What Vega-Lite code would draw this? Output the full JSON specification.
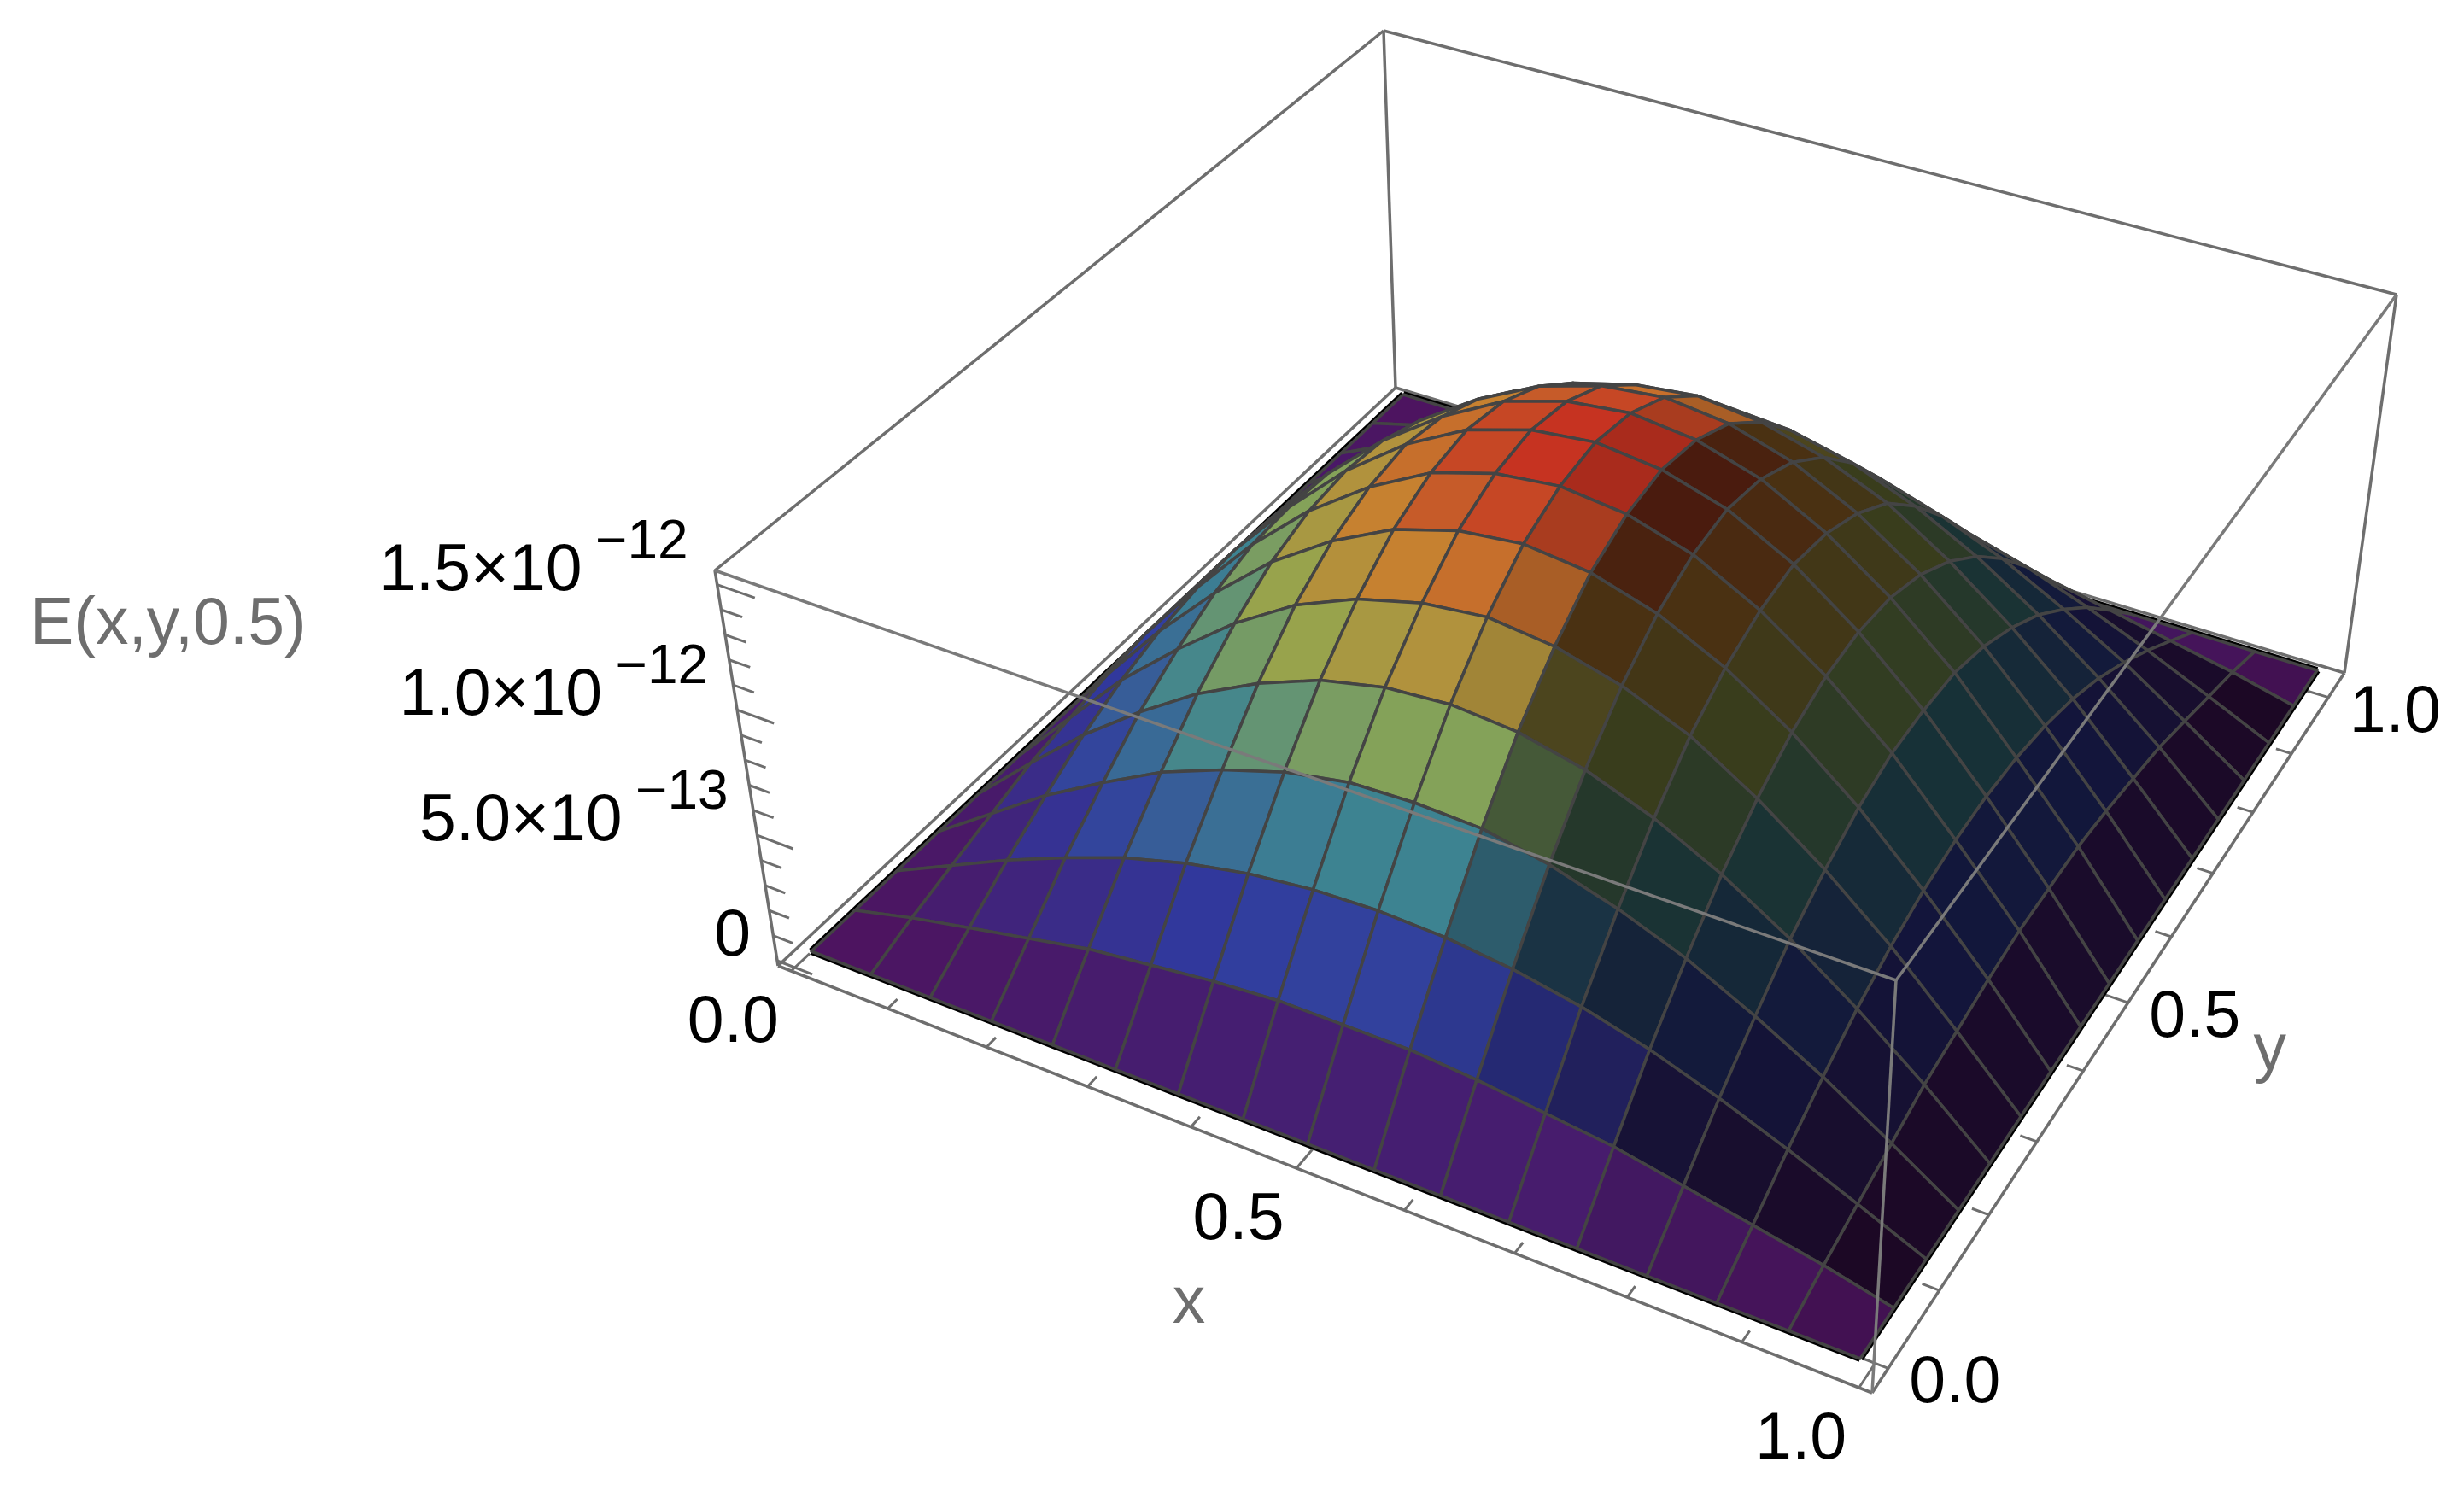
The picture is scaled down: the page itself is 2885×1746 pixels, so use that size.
{"$schema":"https://vega.github.io/schema/vega-lite/v6.json","autosize":{"type":"fit","contains":"padding"},"padding":0,"width":2885,"height":1746,"background":"white","view":{"stroke":null},
"config":{"text":{"font":"Liberation Sans"}},
"datasets":{
"frame":[{"edge":"AB","part":"back","X":0,"Y":0,"Z":0},{"edge":"AB","part":"back","X":1,"Y":0,"Z":0},{"edge":"BC","part":"back","X":1,"Y":0,"Z":0},{"edge":"BC","part":"back","X":1,"Y":1,"Z":0},{"edge":"CD","part":"back","X":1,"Y":1,"Z":0},{"edge":"CD","part":"back","X":0,"Y":1,"Z":0},{"edge":"DA","part":"back","X":0,"Y":1,"Z":0},{"edge":"DA","part":"back","X":0,"Y":0,"Z":0},{"edge":"AA","part":"back","X":0,"Y":0,"Z":0},{"edge":"AA","part":"back","X":0,"Y":0,"Z":1},{"edge":"CC","part":"back","X":1,"Y":1,"Z":0},{"edge":"CC","part":"back","X":1,"Y":1,"Z":1},{"edge":"DD","part":"back","X":0,"Y":1,"Z":0},{"edge":"DD","part":"back","X":0,"Y":1,"Z":1},{"edge":"AtDt","part":"back","X":0,"Y":0,"Z":1},{"edge":"AtDt","part":"back","X":0,"Y":1,"Z":1},{"edge":"DtCt","part":"back","X":0,"Y":1,"Z":1},{"edge":"DtCt","part":"back","X":1,"Y":1,"Z":1},{"edge":"AtBt","part":"front","X":0,"Y":0,"Z":1},{"edge":"AtBt","part":"front","X":1,"Y":0,"Z":1},{"edge":"BtCt","part":"front","X":1,"Y":0,"Z":1},{"edge":"BtCt","part":"front","X":1,"Y":1,"Z":1},{"edge":"BB","part":"front","X":1,"Y":0,"Z":0},{"edge":"BB","part":"front","X":1,"Y":0,"Z":1}],
"ticks":[{"axis":"x","v":0},{"axis":"x","v":0.1},{"axis":"x","v":0.2},{"axis":"x","v":0.3},{"axis":"x","v":0.4},{"axis":"x","v":0.5},{"axis":"x","v":0.6},{"axis":"x","v":0.7},{"axis":"x","v":0.8},{"axis":"x","v":0.9},{"axis":"x","v":1},{"axis":"y","v":0},{"axis":"y","v":0.1},{"axis":"y","v":0.2},{"axis":"y","v":0.3},{"axis":"y","v":0.4},{"axis":"y","v":0.5},{"axis":"y","v":0.6},{"axis":"y","v":0.7},{"axis":"y","v":0.8},{"axis":"y","v":0.9},{"axis":"y","v":1},{"axis":"z","v":0},{"axis":"z","v":0.1},{"axis":"z","v":0.2},{"axis":"z","v":0.3},{"axis":"z","v":0.4},{"axis":"z","v":0.5},{"axis":"z","v":0.6},{"axis":"z","v":0.7},{"axis":"z","v":0.8},{"axis":"z","v":0.9},{"axis":"z","v":1},{"axis":"z","v":1.1},{"axis":"z","v":1.2},{"axis":"z","v":1.3},{"axis":"z","v":1.4},{"axis":"z","v":1.5}],
"labels":[{"text":"0.0","axis":"x","v":0},{"text":"0.5","axis":"x","v":0.5},{"text":"1.0","axis":"x","v":1},{"text":"0.0","axis":"y","v":0},{"text":"0.5","axis":"y","v":0.5},{"text":"1.0","axis":"y","v":1},{"text":"x","axis":"xt","v":0.5},{"text":"y","axis":"yt","v":0.5},{"text":"E(x,y,0.5)","axis":"zt","v":0.75}],
"zlabels":[{"text":"0","exp":"","v":0},{"text":"5.0×10","exp":"−13","v":0.5},{"text":"1.0×10","exp":"−12","v":1},{"text":"1.5×10","exp":"−12","v":1.5}],
"surface":[
{"x":0,"y":1,"E":0},{"x":0.063,"y":1,"E":0},{"x":0.125,"y":1,"E":0},{"x":0.188,"y":1,"E":0},{"x":0.25,"y":1,"E":0},{"x":0.313,"y":1,"E":0},{"x":0.375,"y":1,"E":0},{"x":0.438,"y":1,"E":0},{"x":0.5,"y":1,"E":0},{"x":0.563,"y":1,"E":0},{"x":0.625,"y":1,"E":0},{"x":0.688,"y":1,"E":0},{"x":0.75,"y":1,"E":0},{"x":0.813,"y":1,"E":0},{"x":0.875,"y":1,"E":0},{"x":0.938,"y":1,"E":0},{"x":1,"y":1,"E":0},
{"x":0,"y":0.938,"E":0},{"x":0.063,"y":0.938,"E":0.06},{"x":0.125,"y":0.938,"E":0.11},{"x":0.188,"y":0.938,"E":0.16},{"x":0.25,"y":0.938,"E":0.21},{"x":0.313,"y":0.938,"E":0.24},{"x":0.375,"y":0.938,"E":0.27},{"x":0.438,"y":0.938,"E":0.29},{"x":0.5,"y":0.938,"E":0.29},{"x":0.563,"y":0.938,"E":0.29},{"x":0.625,"y":0.938,"E":0.27},{"x":0.688,"y":0.938,"E":0.24},{"x":0.75,"y":0.938,"E":0.21},{"x":0.813,"y":0.938,"E":0.16},{"x":0.875,"y":0.938,"E":0.11},{"x":0.938,"y":0.938,"E":0.06},{"x":1,"y":0.938,"E":0},
{"x":0,"y":0.875,"E":0},{"x":0.063,"y":0.875,"E":0.11},{"x":0.125,"y":0.875,"E":0.22},{"x":0.188,"y":0.875,"E":0.32},{"x":0.25,"y":0.875,"E":0.41},{"x":0.313,"y":0.875,"E":0.48},{"x":0.375,"y":0.875,"E":0.53},{"x":0.438,"y":0.875,"E":0.56},{"x":0.5,"y":0.875,"E":0.57},{"x":0.563,"y":0.875,"E":0.56},{"x":0.625,"y":0.875,"E":0.53},{"x":0.688,"y":0.875,"E":0.48},{"x":0.75,"y":0.875,"E":0.41},{"x":0.813,"y":0.875,"E":0.32},{"x":0.875,"y":0.875,"E":0.22},{"x":0.938,"y":0.875,"E":0.11},{"x":1,"y":0.875,"E":0},
{"x":0,"y":0.813,"E":0},{"x":0.063,"y":0.813,"E":0.16},{"x":0.125,"y":0.813,"E":0.32},{"x":0.188,"y":0.813,"E":0.46},{"x":0.25,"y":0.813,"E":0.59},{"x":0.313,"y":0.813,"E":0.69},{"x":0.375,"y":0.813,"E":0.77},{"x":0.438,"y":0.813,"E":0.82},{"x":0.5,"y":0.813,"E":0.83},{"x":0.563,"y":0.813,"E":0.82},{"x":0.625,"y":0.813,"E":0.77},{"x":0.688,"y":0.813,"E":0.69},{"x":0.75,"y":0.813,"E":0.59},{"x":0.813,"y":0.813,"E":0.46},{"x":0.875,"y":0.813,"E":0.32},{"x":0.938,"y":0.813,"E":0.16},{"x":1,"y":0.813,"E":0},
{"x":0,"y":0.75,"E":0},{"x":0.063,"y":0.75,"E":0.21},{"x":0.125,"y":0.75,"E":0.41},{"x":0.188,"y":0.75,"E":0.59},{"x":0.25,"y":0.75,"E":0.75},{"x":0.313,"y":0.75,"E":0.88},{"x":0.375,"y":0.75,"E":0.98},{"x":0.438,"y":0.75,"E":1.04},{"x":0.5,"y":0.75,"E":1.06},{"x":0.563,"y":0.75,"E":1.04},{"x":0.625,"y":0.75,"E":0.98},{"x":0.688,"y":0.75,"E":0.88},{"x":0.75,"y":0.75,"E":0.75},{"x":0.813,"y":0.75,"E":0.59},{"x":0.875,"y":0.75,"E":0.41},{"x":0.938,"y":0.75,"E":0.21},{"x":1,"y":0.75,"E":0},
{"x":0,"y":0.688,"E":0},{"x":0.063,"y":0.688,"E":0.24},{"x":0.125,"y":0.688,"E":0.48},{"x":0.188,"y":0.688,"E":0.69},{"x":0.25,"y":0.688,"E":0.88},{"x":0.313,"y":0.688,"E":1.04},{"x":0.375,"y":0.688,"E":1.15},{"x":0.438,"y":0.688,"E":1.22},{"x":0.5,"y":0.688,"E":1.25},{"x":0.563,"y":0.688,"E":1.22},{"x":0.625,"y":0.688,"E":1.15},{"x":0.688,"y":0.688,"E":1.04},{"x":0.75,"y":0.688,"E":0.88},{"x":0.813,"y":0.688,"E":0.69},{"x":0.875,"y":0.688,"E":0.48},{"x":0.938,"y":0.688,"E":0.24},{"x":1,"y":0.688,"E":0},
{"x":0,"y":0.625,"E":0},{"x":0.063,"y":0.625,"E":0.27},{"x":0.125,"y":0.625,"E":0.53},{"x":0.188,"y":0.625,"E":0.77},{"x":0.25,"y":0.625,"E":0.98},{"x":0.313,"y":0.625,"E":1.15},{"x":0.375,"y":0.625,"E":1.28},{"x":0.438,"y":0.625,"E":1.36},{"x":0.5,"y":0.625,"E":1.39},{"x":0.563,"y":0.625,"E":1.36},{"x":0.625,"y":0.625,"E":1.28},{"x":0.688,"y":0.625,"E":1.15},{"x":0.75,"y":0.625,"E":0.98},{"x":0.813,"y":0.625,"E":0.77},{"x":0.875,"y":0.625,"E":0.53},{"x":0.938,"y":0.625,"E":0.27},{"x":1,"y":0.625,"E":0},
{"x":0,"y":0.563,"E":0},{"x":0.063,"y":0.563,"E":0.29},{"x":0.125,"y":0.563,"E":0.56},{"x":0.188,"y":0.563,"E":0.82},{"x":0.25,"y":0.563,"E":1.04},{"x":0.313,"y":0.563,"E":1.22},{"x":0.375,"y":0.563,"E":1.36},{"x":0.438,"y":0.563,"E":1.44},{"x":0.5,"y":0.563,"E":1.47},{"x":0.563,"y":0.563,"E":1.44},{"x":0.625,"y":0.563,"E":1.36},{"x":0.688,"y":0.563,"E":1.22},{"x":0.75,"y":0.563,"E":1.04},{"x":0.813,"y":0.563,"E":0.82},{"x":0.875,"y":0.563,"E":0.56},{"x":0.938,"y":0.563,"E":0.29},{"x":1,"y":0.563,"E":0},
{"x":0,"y":0.5,"E":0},{"x":0.063,"y":0.5,"E":0.29},{"x":0.125,"y":0.5,"E":0.57},{"x":0.188,"y":0.5,"E":0.83},{"x":0.25,"y":0.5,"E":1.06},{"x":0.313,"y":0.5,"E":1.25},{"x":0.375,"y":0.5,"E":1.39},{"x":0.438,"y":0.5,"E":1.47},{"x":0.5,"y":0.5,"E":1.5},{"x":0.563,"y":0.5,"E":1.47},{"x":0.625,"y":0.5,"E":1.39},{"x":0.688,"y":0.5,"E":1.25},{"x":0.75,"y":0.5,"E":1.06},{"x":0.813,"y":0.5,"E":0.83},{"x":0.875,"y":0.5,"E":0.57},{"x":0.938,"y":0.5,"E":0.29},{"x":1,"y":0.5,"E":0},
{"x":0,"y":0.438,"E":0},{"x":0.063,"y":0.438,"E":0.29},{"x":0.125,"y":0.438,"E":0.56},{"x":0.188,"y":0.438,"E":0.82},{"x":0.25,"y":0.438,"E":1.04},{"x":0.313,"y":0.438,"E":1.22},{"x":0.375,"y":0.438,"E":1.36},{"x":0.438,"y":0.438,"E":1.44},{"x":0.5,"y":0.438,"E":1.47},{"x":0.563,"y":0.438,"E":1.44},{"x":0.625,"y":0.438,"E":1.36},{"x":0.688,"y":0.438,"E":1.22},{"x":0.75,"y":0.438,"E":1.04},{"x":0.813,"y":0.438,"E":0.82},{"x":0.875,"y":0.438,"E":0.56},{"x":0.938,"y":0.438,"E":0.29},{"x":1,"y":0.438,"E":0},
{"x":0,"y":0.375,"E":0},{"x":0.063,"y":0.375,"E":0.27},{"x":0.125,"y":0.375,"E":0.53},{"x":0.188,"y":0.375,"E":0.77},{"x":0.25,"y":0.375,"E":0.98},{"x":0.313,"y":0.375,"E":1.15},{"x":0.375,"y":0.375,"E":1.28},{"x":0.438,"y":0.375,"E":1.36},{"x":0.5,"y":0.375,"E":1.39},{"x":0.563,"y":0.375,"E":1.36},{"x":0.625,"y":0.375,"E":1.28},{"x":0.688,"y":0.375,"E":1.15},{"x":0.75,"y":0.375,"E":0.98},{"x":0.813,"y":0.375,"E":0.77},{"x":0.875,"y":0.375,"E":0.53},{"x":0.938,"y":0.375,"E":0.27},{"x":1,"y":0.375,"E":0},
{"x":0,"y":0.313,"E":0},{"x":0.063,"y":0.313,"E":0.24},{"x":0.125,"y":0.313,"E":0.48},{"x":0.188,"y":0.313,"E":0.69},{"x":0.25,"y":0.313,"E":0.88},{"x":0.313,"y":0.313,"E":1.04},{"x":0.375,"y":0.313,"E":1.15},{"x":0.438,"y":0.313,"E":1.22},{"x":0.5,"y":0.313,"E":1.25},{"x":0.563,"y":0.313,"E":1.22},{"x":0.625,"y":0.313,"E":1.15},{"x":0.688,"y":0.313,"E":1.04},{"x":0.75,"y":0.313,"E":0.88},{"x":0.813,"y":0.313,"E":0.69},{"x":0.875,"y":0.313,"E":0.48},{"x":0.938,"y":0.313,"E":0.24},{"x":1,"y":0.313,"E":0},
{"x":0,"y":0.25,"E":0},{"x":0.063,"y":0.25,"E":0.21},{"x":0.125,"y":0.25,"E":0.41},{"x":0.188,"y":0.25,"E":0.59},{"x":0.25,"y":0.25,"E":0.75},{"x":0.313,"y":0.25,"E":0.88},{"x":0.375,"y":0.25,"E":0.98},{"x":0.438,"y":0.25,"E":1.04},{"x":0.5,"y":0.25,"E":1.06},{"x":0.563,"y":0.25,"E":1.04},{"x":0.625,"y":0.25,"E":0.98},{"x":0.688,"y":0.25,"E":0.88},{"x":0.75,"y":0.25,"E":0.75},{"x":0.813,"y":0.25,"E":0.59},{"x":0.875,"y":0.25,"E":0.41},{"x":0.938,"y":0.25,"E":0.21},{"x":1,"y":0.25,"E":0},
{"x":0,"y":0.188,"E":0},{"x":0.063,"y":0.188,"E":0.16},{"x":0.125,"y":0.188,"E":0.32},{"x":0.188,"y":0.188,"E":0.46},{"x":0.25,"y":0.188,"E":0.59},{"x":0.313,"y":0.188,"E":0.69},{"x":0.375,"y":0.188,"E":0.77},{"x":0.438,"y":0.188,"E":0.82},{"x":0.5,"y":0.188,"E":0.83},{"x":0.563,"y":0.188,"E":0.82},{"x":0.625,"y":0.188,"E":0.77},{"x":0.688,"y":0.188,"E":0.69},{"x":0.75,"y":0.188,"E":0.59},{"x":0.813,"y":0.188,"E":0.46},{"x":0.875,"y":0.188,"E":0.32},{"x":0.938,"y":0.188,"E":0.16},{"x":1,"y":0.188,"E":0},
{"x":0,"y":0.125,"E":0},{"x":0.063,"y":0.125,"E":0.11},{"x":0.125,"y":0.125,"E":0.22},{"x":0.188,"y":0.125,"E":0.32},{"x":0.25,"y":0.125,"E":0.41},{"x":0.313,"y":0.125,"E":0.48},{"x":0.375,"y":0.125,"E":0.53},{"x":0.438,"y":0.125,"E":0.56},{"x":0.5,"y":0.125,"E":0.57},{"x":0.563,"y":0.125,"E":0.56},{"x":0.625,"y":0.125,"E":0.53},{"x":0.688,"y":0.125,"E":0.48},{"x":0.75,"y":0.125,"E":0.41},{"x":0.813,"y":0.125,"E":0.32},{"x":0.875,"y":0.125,"E":0.22},{"x":0.938,"y":0.125,"E":0.11},{"x":1,"y":0.125,"E":0},
{"x":0,"y":0.063,"E":0},{"x":0.063,"y":0.063,"E":0.06},{"x":0.125,"y":0.063,"E":0.11},{"x":0.188,"y":0.063,"E":0.16},{"x":0.25,"y":0.063,"E":0.21},{"x":0.313,"y":0.063,"E":0.24},{"x":0.375,"y":0.063,"E":0.27},{"x":0.438,"y":0.063,"E":0.29},{"x":0.5,"y":0.063,"E":0.29},{"x":0.563,"y":0.063,"E":0.29},{"x":0.625,"y":0.063,"E":0.27},{"x":0.688,"y":0.063,"E":0.24},{"x":0.75,"y":0.063,"E":0.21},{"x":0.813,"y":0.063,"E":0.16},{"x":0.875,"y":0.063,"E":0.11},{"x":0.938,"y":0.063,"E":0.06},{"x":1,"y":0.063,"E":0},
{"x":0,"y":0,"E":0},{"x":0.063,"y":0,"E":0},{"x":0.125,"y":0,"E":0},{"x":0.188,"y":0,"E":0},{"x":0.25,"y":0,"E":0},{"x":0.313,"y":0,"E":0},{"x":0.375,"y":0,"E":0},{"x":0.438,"y":0,"E":0},{"x":0.5,"y":0,"E":0},{"x":0.563,"y":0,"E":0},{"x":0.625,"y":0,"E":0},{"x":0.688,"y":0,"E":0},{"x":0.75,"y":0,"E":0},{"x":0.813,"y":0,"E":0},{"x":0.875,"y":0,"E":0},{"x":0.938,"y":0,"E":0},{"x":1,"y":0,"E":0}
]},
"layer":[
{"data":{"name":"frame"},"transform":[{"filter":"datum.part=='back'"},
{"calculate":"(1-datum.Z)*((1-datum.X)*(1-datum.Y)*911+datum.X*(1-datum.Y)*2192+datum.X*datum.Y*2745+(1-datum.X)*datum.Y*1634)+datum.Z*((1-datum.X)*(1-datum.Y)*837+datum.X*(1-datum.Y)*2220+datum.X*datum.Y*2806+(1-datum.X)*datum.Y*1620)","as":"sx"},
{"calculate":"(1-datum.Z)*((1-datum.X)*(1-datum.Y)*1131+datum.X*(1-datum.Y)*1631+datum.X*datum.Y*788+(1-datum.X)*datum.Y*454)+datum.Z*((1-datum.X)*(1-datum.Y)*668+datum.X*(1-datum.Y)*1148+datum.X*datum.Y*345+(1-datum.X)*datum.Y*36)","as":"sy"}],
"mark":{"type":"line","stroke":"#6e6e6e","strokeWidth":3.5},
"encoding":{"x":{"field":"sx","type":"quantitative","axis":null,"scale":{"domain":[0,2885],"nice":false,"zero":false}},"y":{"field":"sy","type":"quantitative","axis":null,"scale":{"domain":[1746,0],"nice":false,"zero":false}},"detail":{"field":"edge"}}},
{"data":{"name":"ticks"},"transform":[
{"calculate":"[0,1]","as":"p"},{"flatten":["p"]},
{"calculate":"(datum.axis=='z'?(abs(datum.v-round(datum.v*2)/2)<0.01?0.032:0.018):(abs(datum.v*2-round(datum.v*2))<0.01?0.03:0.016))*datum.p","as":"len"},
{"calculate":"(datum.v+0.12*datum.v*datum.v)/1.12","as":"xw"},
{"calculate":"datum.v*1.18-0.18*datum.v*datum.v","as":"yw"},
{"calculate":"datum.axis=='x'?0.012+0.976*datum.xw:(datum.axis=='y'?1-datum.len:datum.len)","as":"X"},
{"calculate":"datum.axis=='y'?0.034+0.932*datum.yw:(datum.axis=='x'?datum.len:0)","as":"Y"},
{"calculate":"datum.axis=='z'?0.013+0.951*datum.v/1.5:0","as":"Z"},
{"calculate":"(1-datum.Z)*((1-datum.X)*(1-datum.Y)*911+datum.X*(1-datum.Y)*2192+datum.X*datum.Y*2745+(1-datum.X)*datum.Y*1634)+datum.Z*((1-datum.X)*(1-datum.Y)*837+datum.X*(1-datum.Y)*2220+datum.X*datum.Y*2806+(1-datum.X)*datum.Y*1620)","as":"sx"},
{"calculate":"(1-datum.Z)*((1-datum.X)*(1-datum.Y)*1131+datum.X*(1-datum.Y)*1631+datum.X*datum.Y*788+(1-datum.X)*datum.Y*454)+datum.Z*((1-datum.X)*(1-datum.Y)*668+datum.X*(1-datum.Y)*1148+datum.X*datum.Y*345+(1-datum.X)*datum.Y*36)","as":"sy"},
{"calculate":"datum.axis+datum.v","as":"tick"}],
"mark":{"type":"line","stroke":"#6e6e6e","strokeWidth":3},
"encoding":{"x":{"field":"sx","type":"quantitative","axis":null},"y":{"field":"sy","type":"quantitative","axis":null},"detail":{"field":"tick"},"order":{"field":"p","type":"quantitative"}}},
{"data":{"name":"surface"},"transform":[
{"calculate":"[datum.x==0?'L':'',datum.x==1?'R':'',datum.y==0?'F':'',datum.y==1?'B':'']","as":"side"},{"flatten":["side"]},{"filter":"datum.side!=''"},
{"calculate":"datum.x+datum.y","as":"along"},
{"calculate":"(datum.x+0.12*datum.x*datum.x)/1.12","as":"xp"},
{"calculate":"datum.y*1.18-0.18*datum.y*datum.y","as":"yp"},
{"calculate":"(1-datum.xp)*(1-datum.yp)*950+datum.xp*(1-datum.yp)*2178+datum.xp*datum.yp*2713+(1-datum.xp)*datum.yp*1643","as":"sx"},
{"calculate":"(1-datum.xp)*(1-datum.yp)*1114+datum.xp*(1-datum.yp)*1591+datum.xp*datum.yp*785+(1-datum.xp)*datum.yp*462","as":"sy"}],
"mark":{"type":"line","stroke":"#000000","strokeWidth":8},
"encoding":{"x":{"field":"sx","type":"quantitative","axis":null},"y":{"field":"sy","type":"quantitative","axis":null},"detail":{"field":"side"},"order":{"field":"along","type":"quantitative"}}},
{"data":{"name":"surface"},"transform":[
{"calculate":"round(datum.x*16)","as":"i"},{"calculate":"round(datum.y*16)","as":"j"},
{"calculate":"[0,1,2,3]","as":"corner"},{"flatten":["corner"]},
{"calculate":"datum.i-((datum.corner==1||datum.corner==2)?1:0)","as":"ci"},
{"calculate":"datum.j-(datum.corner>=2?1:0)","as":"cj"},
{"filter":"datum.ci>=0&&datum.ci<16&&datum.cj>=0&&datum.cj<16"},
{"calculate":"'c'+datum.ci+'_'+datum.cj","as":"cell"},
{"calculate":"datum.E*((datum.corner==1||datum.corner==2)?1:-1)","as":"dx"},
{"joinaggregate":[{"op":"mean","field":"E","as":"Em"},{"op":"sum","field":"dx","as":"gx"}],"groupby":["cell"]},
{"calculate":"min(pow(datum.Em/1.5,1.2),0.999)*5","as":"k"},
{"calculate":"floor(datum.k)","as":"n"},
{"calculate":"datum.k-datum.n","as":"f"},
{"calculate":"clamp(1.05+5*datum.gx,0.33,0.88)","as":"m"},
{"calculate":"'rgb('+round(datum.m*([88,55,70,165,225,225][datum.n]*(1-datum.f)+[88,55,70,165,225,225][datum.n+1]*datum.f))+','+round(datum.m*([22,65,150,190,150,45][datum.n]*(1-datum.f)+[22,65,150,190,150,45][datum.n+1]*datum.f))+','+round(datum.m*([108,180,165,90,55,35][datum.n]*(1-datum.f)+[108,180,165,90,55,35][datum.n+1]*datum.f))+')'","as":"shade"},
{"calculate":"(datum.x+0.12*datum.x*datum.x)/1.12","as":"xp"},
{"calculate":"datum.y*1.18-0.18*datum.y*datum.y","as":"yp"},
{"calculate":"0.95*datum.E/1.5","as":"h"},
{"calculate":"(1-datum.xp)*(1-datum.yp)*(950-74*datum.h)+datum.xp*(1-datum.yp)*(2178+28*datum.h)+datum.xp*datum.yp*(2713+61*datum.h)+(1-datum.xp)*datum.yp*(1643-14*datum.h)","as":"sx"},
{"calculate":"(1-datum.xp)*(1-datum.yp)*(1114-463*datum.h)+datum.xp*(1-datum.yp)*(1591-483*datum.h)+datum.xp*datum.yp*(785-443*datum.h)+(1-datum.xp)*datum.yp*(462-418*datum.h)","as":"sy"}],
"mark":{"type":"line","interpolate":"linear-closed","stroke":"#444444","strokeWidth":3.5,"strokeJoin":"round"},
"encoding":{"x":{"field":"sx","type":"quantitative","axis":null},"y":{"field":"sy","type":"quantitative","axis":null},"detail":{"field":"cell"},"fill":{"field":"shade","type":"nominal","scale":null,"legend":null},"order":{"field":"corner","type":"quantitative"}}},
{"data":{"name":"frame"},"transform":[{"filter":"datum.part=='front'"},
{"calculate":"(1-datum.Z)*((1-datum.X)*(1-datum.Y)*911+datum.X*(1-datum.Y)*2192+datum.X*datum.Y*2745+(1-datum.X)*datum.Y*1634)+datum.Z*((1-datum.X)*(1-datum.Y)*837+datum.X*(1-datum.Y)*2220+datum.X*datum.Y*2806+(1-datum.X)*datum.Y*1620)","as":"sx"},
{"calculate":"(1-datum.Z)*((1-datum.X)*(1-datum.Y)*1131+datum.X*(1-datum.Y)*1631+datum.X*datum.Y*788+(1-datum.X)*datum.Y*454)+datum.Z*((1-datum.X)*(1-datum.Y)*668+datum.X*(1-datum.Y)*1148+datum.X*datum.Y*345+(1-datum.X)*datum.Y*36)","as":"sy"}],
"mark":{"type":"line","stroke":"#7a7a7a","strokeWidth":3.5},
"encoding":{"x":{"field":"sx","type":"quantitative","axis":null},"y":{"field":"sy","type":"quantitative","axis":null},"detail":{"field":"edge"}}},
{"data":{"name":"zlabels"},"transform":[
{"calculate":"0.013+0.951*datum.v/1.5","as":"Z"},
{"calculate":"911-74*datum.Z+(datum.v==0?-31:-158)","as":"ax"},{"calculate":"1131-463*datum.Z+(datum.v==0?-6:6)","as":"ay"}],
"mark":{"type":"text","align":"right","baseline":"alphabetic","font":"Liberation Sans","fontSize":77,"color":"#000000"},
"encoding":{"x":{"field":"ax","type":"quantitative","axis":null},"y":{"field":"ay","type":"quantitative","axis":null},"text":{"field":"text"}}},
{"data":{"name":"zlabels"},"transform":[{"filter":"datum.exp!=''"},
{"calculate":"0.013+0.951*datum.v/1.5","as":"Z"},
{"calculate":"911-74*datum.Z-34","as":"ax"},{"calculate":"1131-463*datum.Z-31","as":"ay"}],
"mark":{"type":"text","align":"right","baseline":"alphabetic","font":"Liberation Sans","fontSize":64,"color":"#000000"},
"encoding":{"x":{"field":"ax","type":"quantitative","axis":null},"y":{"field":"ay","type":"quantitative","axis":null},"text":{"field":"exp"}}},
{"data":{"name":"labels"},"transform":[
{"calculate":"datum.axis=='x'||datum.axis=='xt'?(datum.v+0.12*datum.v*datum.v)/1.12:(datum.axis=='y'||datum.axis=='yt'?datum.v*1.18-0.18*datum.v*datum.v:0)","as":"w"},
{"calculate":"datum.axis=='x'||datum.axis=='xt'?0.012+0.976*datum.w:(datum.axis=='y'||datum.axis=='yt'?1:0)","as":"X"},
{"calculate":"datum.axis=='y'||datum.axis=='yt'?0.034+0.932*datum.w:0","as":"Y"},
{"calculate":"datum.axis=='zt'?0.013+0.951*datum.v/1.5:0","as":"Z"},
{"calculate":"(1-datum.Z)*((1-datum.X)*(1-datum.Y)*911+datum.X*(1-datum.Y)*2192+datum.X*datum.Y*2745+(1-datum.X)*datum.Y*1634)+datum.Z*((1-datum.X)*(1-datum.Y)*837+datum.X*(1-datum.Y)*2220+datum.X*datum.Y*2806+(1-datum.X)*datum.Y*1620)+(datum.axis=='x'?-68:datum.axis=='y'?78:datum.axis=='xt'?-126:datum.axis=='yt'?166:-678)","as":"sx"},
{"calculate":"(1-datum.Z)*((1-datum.X)*(1-datum.Y)*1131+datum.X*(1-datum.Y)*1631+datum.X*datum.Y*788+(1-datum.X)*datum.Y*454)+datum.Z*((1-datum.X)*(1-datum.Y)*668+datum.X*(1-datum.Y)*1148+datum.X*datum.Y*345+(1-datum.X)*datum.Y*36)+(datum.axis=='x'?60:datum.axis=='y'?17:datum.axis=='xt'?158:datum.axis=='yt'?56:-174)","as":"sy"},
{"calculate":"datum.axis=='x'||datum.axis=='y'?'tick':'title'","as":"kind"}],
"mark":{"type":"text","align":"center","baseline":"middle","font":"Liberation Sans","fontSize":77},
"encoding":{"x":{"field":"sx","type":"quantitative","axis":null},"y":{"field":"sy","type":"quantitative","axis":null},"text":{"field":"text"},"color":{"field":"kind","type":"nominal","scale":{"domain":["tick","title"],"range":["#000000","#6e6e6e"]},"legend":null}}}
]}
